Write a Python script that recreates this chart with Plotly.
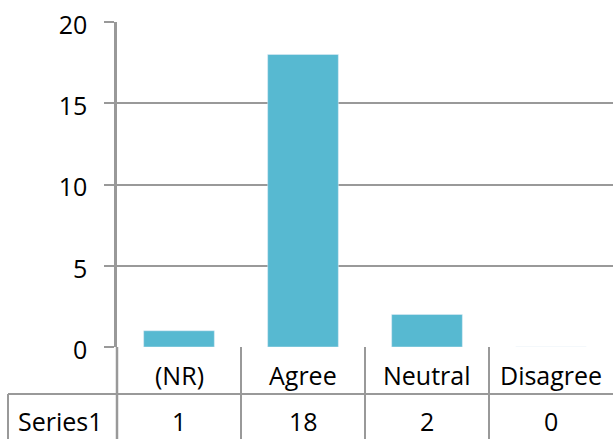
import plotly.graph_objects as go

categories = ["(NR)", "Agree", "Neutral", "Disagree"]
series_name = "Series1"
values = [1, 18, 2, 0]
y_ticks = [0, 5, 10, 15, 20]

BAR = "#57b9d1"
GRID = "#999999"
FONT = dict(family="Open Sans, sans-serif", size=25, color="#000000")

W, H = 613, 439
L, R, T, B = 117, 0, 22, 92
plot_w = W - L - R
plot_h = H - T - B
zero_px = H - B


def px_to_paper_y(py):
    # pixel row -> paper y (0 at the x axis, negative below it)
    return (zero_px - py) / plot_h


def px_to_paper_x(px):
    return (px - L) / plot_w


fig = go.Figure(go.Bar(
    x=categories,
    y=values,
    marker_color=BAR,
    width=0.57,
))

# data table under the plot
row1 = px_to_paper_y(394)
bottom = px_to_paper_y(H + 5)
table_left = px_to_paper_x(8)
n = len(categories)
line = dict(color=GRID, width=2)

shapes = [
    dict(type="line", xref="paper", yref="paper",
         x0=table_left, x1=1, y0=row1, y1=row1, line=line),
    dict(type="line", xref="paper", yref="paper",
         x0=table_left, x1=table_left, y0=row1, y1=bottom, line=line),
    # y axis carried down through the table
    dict(type="line", xref="paper", yref="paper",
         x0=0, x1=0, y0=0, y1=bottom, line=dict(color=GRID, width=2.5)),
]
for i in range(1, n):
    xp = i / n
    shapes.append(dict(type="line", xref="paper", yref="paper",
                       x0=xp, x1=xp, y0=0, y1=bottom, line=line))

label_y = px_to_paper_y(375)
value_y = px_to_paper_y(421)
cell = dict(xref="paper", yref="paper", showarrow=False, font=FONT,
            xanchor="center", yanchor="middle")
annotations = []
for i, (c, v) in enumerate(zip(categories, values)):
    xp = (i + 0.5) / n
    annotations.append(dict(x=xp, y=label_y, text=c, **cell))
    annotations.append(dict(x=xp, y=value_y, text=str(v), **cell))
annotations.append(dict(x=px_to_paper_x(60), y=value_y, text=series_name, **cell))

fig.update_layout(
    width=W,
    height=H,
    margin=dict(l=L, r=R, t=T, b=B, pad=0),
    paper_bgcolor="white",
    plot_bgcolor="white",
    font=FONT,
    showlegend=False,
    xaxis=dict(
        showticklabels=False,
        showgrid=False,
        zeroline=False,
        ticks="",
        range=[-0.5, n - 0.5],
    ),
    yaxis=dict(
        range=[0, 20],
        tickvals=y_ticks,
        showgrid=True,
        gridcolor=GRID,
        gridwidth=2,
        zeroline=False,
        showline=True,
        linecolor=GRID,
        linewidth=2.5,
        ticks="outside",
        ticklen=10,
        tickwidth=2,
        tickcolor=GRID,
        ticklabelstandoff=12,
        ticklabelshift=3,
        tickfont=FONT,
    ),
    shapes=shapes,
    annotations=annotations,
)

fig.write_html("out.html", config={"displayModeBar": False},
               post_script="document.body.style.margin = '0';")
